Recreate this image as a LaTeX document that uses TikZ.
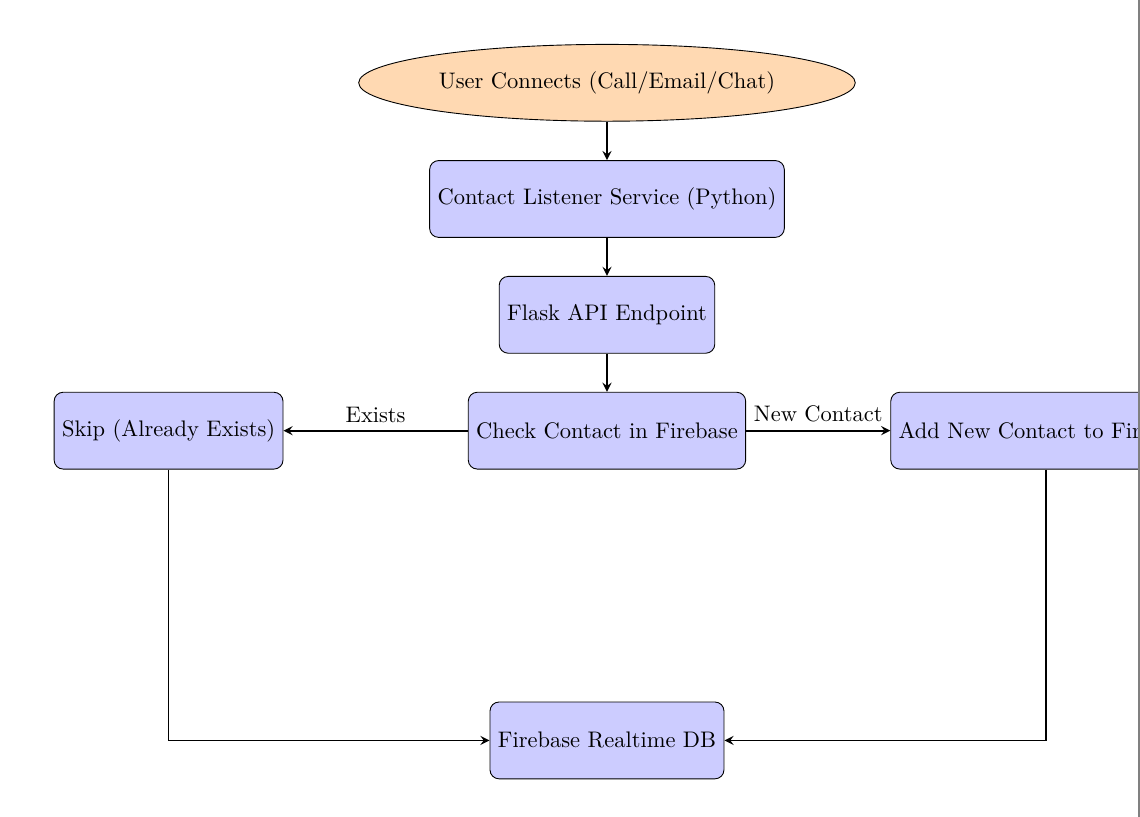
\documentclass[tikz,border=0pt]{standalone}
\usetikzlibrary{shapes.geometric,arrows}
\tikzset{
  startnode/.style={ellipse,draw,fill=orange!30,minimum height=1.2cm},
  procnode/.style={rectangle,rounded corners,draw,fill=blue!20,minimum height=1.2cm,inner sep=3.5pt},
  flowline/.style={->,>=stealth,thick}
}
\begin{document}
\begin{tikzpicture}
  \useasboundingbox (-9.484,-6.031) rectangle (8.328,6.734);
  \path (0,5.44) node[startnode] (user) {User Connects (Call/Email/Chat)};
  \path node[procnode,below of=user,node distance=1.815cm] (listener) {Contact Listener Service (Python)};
  \path node[procnode,below of=listener,node distance=1.81cm] (flask) {Flask API Endpoint};
  \path node[procnode,below of=flask,node distance=1.81cm] (check) {Check Contact in Firebase};
  \path node[procnode,left of=check,node distance=6.85cm] (skip) {Skip (Already Exists)};
  \path node[procnode,right of=check,node distance=6.86cm] (addnew) {Add New Contact to Firebase};
  \path node[procnode,below of=check,node distance=4.84cm] (db) {Firebase Realtime DB};

  \draw[flowline] (user) -- (listener);
  \draw[flowline] (listener) -- (flask);
  \draw[flowline] (flask) -- (check);
  \begin{scope}[every node/.append style={midway}]
    \draw[flowline] (check) -- node[above]{Exists} (skip);
    \draw[flowline] (check) -- node[above]{New Contact} (addnew);
  \end{scope}
  \draw[flowline] (skip.south) |- (db.west);
  \draw[flowline] (addnew.south) |- (db.east);

  \draw[gray,line width=0.8pt] (8.31,6.734) -- (8.31,-6.031);
\end{tikzpicture}
\end{document}
